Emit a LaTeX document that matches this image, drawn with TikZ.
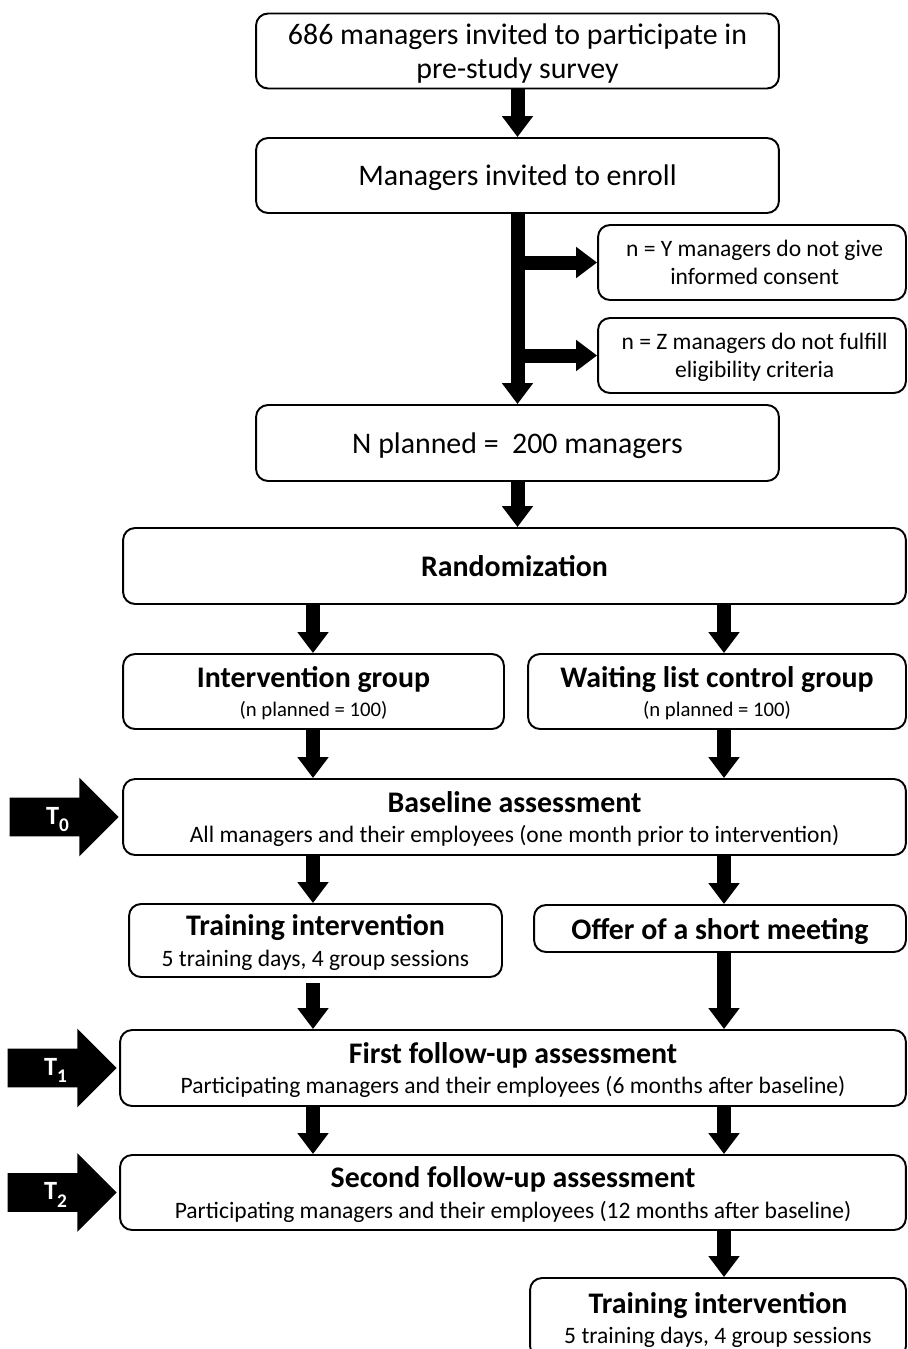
\documentclass[tikz,border=0pt]{standalone}
\usepackage{fontspec}
\setmainfont{Carlito}
\usetikzlibrary{arrows.meta,shapes.arrows}

\begin{document}
\begin{tikzpicture}[x=0.02cm, y=-0.02cm,
	box/.style={draw, line width=1.1pt, rounded corners=0.24cm, align=center, inner sep=0pt, text depth=0pt, font=\fontsize{17}{19.5}\selectfont},
	note/.style={box, minimum width=6.16cm, minimum height=1.5cm, font=\fontsize{13.4}{16}\selectfont},
	fat/.style={line width=0.28cm, -{Triangle[length=0.42cm,width=0.6cm]}},
	tmark/.style={single arrow, fill=black, text=white, minimum height=2.18cm, single arrow head extend=0.4cm, inner sep=0pt, text height=0.52cm, text depth=0.24cm, font=\fontsize{15}{17}\selectfont\bfseries}]
					\useasboundingbox (0,0) rectangle (907,1349);

					\node (invite) [box, minimum width=10.46cm, minimum height=1.5cm] at (517.5,51) {686 managers invited to participate in\\pre-study survey};
					\node (enroll) [box, minimum width=10.46cm, minimum height=1.5cm] at (517.5,175.5) {Managers invited to enroll};
					\node (consent) [note] at (752,262.5) {\ n = Y managers do not give\\\ informed consent};
					\node (elig) [note] at (752,355.5) {\ n = Z managers do not fulfill\\\ eligibility criteria};
					\node (planned) [box, minimum width=10.46cm, minimum height=1.52cm] at (517.5,443) {N planned =\ \ 200 managers};
					\node (random) [box, minimum width=15.66cm, minimum height=1.52cm] at (514.5,566) {\textbf{Randomization}};
					\node (interv) [box, minimum width=7.62cm, minimum height=1.5cm] at (313.5,691.5) {\textbf{Intervention group}\\[-3pt]{\fontsize{11.8}{14}\selectfont (n planned = 100)}};
					\node (wait) [box, minimum width=7.56cm, minimum height=1.5cm] at (717,691.5) {\textbf{Waiting list control group}\\[-3pt]{\fontsize{11.8}{14}\selectfont (n planned = 100)}};
					\node (baseline) [box, minimum width=15.66cm, minimum height=1.52cm] at (514.5,817) {\textbf{Baseline assessment}\\[-2pt]{\fontsize{13.4}{15}\selectfont All managers and their employees (one month prior to intervention)}};
					\node (trainL) [box, minimum width=7.46cm, minimum height=1.46cm] at (315.5,940.5) {\textbf{Training intervention}\\[-2pt]{\fontsize{13.4}{15}\selectfont 5 training days, 4 group sessions}};
					\node (offer) [box, minimum width=7.44cm, minimum height=0.94cm] at (720,928.5) {\textbf{Offer of a short meeting}};
					\node (first) [box, minimum width=15.72cm, minimum height=1.52cm] at (513,1068) {\textbf{First follow-up assessment}\\[-2pt]{\fontsize{13.4}{15}\selectfont Participating managers and their employees (6 months after baseline)}};
					\node (second) [box, minimum width=15.72cm, minimum height=1.5cm] at (513,1192.5) {\textbf{Second follow-up assessment}\\[-2pt]{\fontsize{13.4}{15}\selectfont Participating managers and their employees (12 months after baseline)}};
					\node (trainR) [box, minimum width=7.52cm, minimum height=1.6cm] at (718,1318) {\textbf{Training intervention}\\[-2pt]{\fontsize{13.4}{15}\selectfont 5 training days, 4 group sessions}};

					\node (t0) [tmark, anchor=tip] at ([xshift=-0.06cm]baseline.west) {\ T\raisebox{-0.3em}{\fontsize{11}{11}\selectfont 0}};
					\node (t1) [tmark, anchor=tip] at ([xshift=-0.04cm]first.west) {\ T\raisebox{-0.3em}{\fontsize{11}{11}\selectfont 1}};
					\node (t2) [tmark, anchor=tip] at ([xshift=-0.04cm]second.west) {\ T\raisebox{-0.3em}{\fontsize{11}{11}\selectfont 2}};

					\coordinate (lcol) at (313,0);
					\coordinate (rcol) at (724,0);

					\path (invite.south) edge [fat] (enroll.north);
					\path (enroll.south) edge [fat] (planned.north);
					\path (enroll.south |- consent.west) edge [fat] (consent.west);
					\path (enroll.south |- elig.west) edge [fat] (elig.west);
					\path (planned.south) edge [fat] (random.north -| planned.south);
					\path (random.south -| lcol) edge [fat] (interv.north -| lcol);
					\path (random.south -| rcol) edge [fat] (wait.north -| rcol);
					\path (interv.south -| lcol) edge [fat] (baseline.north -| lcol);
					\path (wait.south -| rcol) edge [fat] (baseline.north -| rcol);
					\path (baseline.south -| lcol) edge [fat] (trainL.north -| lcol);
					\path (baseline.south -| rcol) edge [fat] (offer.north -| rcol);
					\path (trainL.south -| lcol) edge [fat, shorten <=0.1cm] (first.north -| lcol);
					\path (offer.south -| rcol) edge [fat] (first.north -| rcol);
					\path (first.south -| lcol) edge [fat] (second.north -| lcol);
					\path (first.south -| rcol) edge [fat] (second.north -| rcol);
					\path (second.south -| rcol) edge [fat] (trainR.north -| rcol);
\end{tikzpicture}
\end{document}
